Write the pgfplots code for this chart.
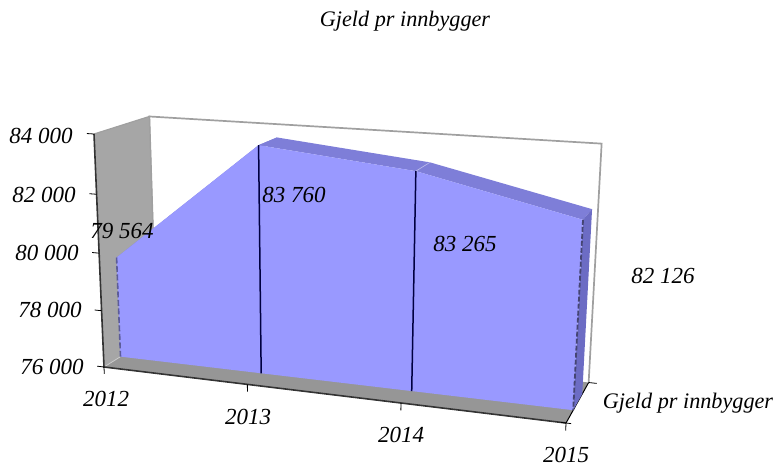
\documentclass[border=0pt]{standalone}
\usepackage{pgfplots}
\pgfplotsset{compat=1.18}
\usepackage{fontspec}
\setmainfont{Liberation Serif}
% projection of (category i = 0..3, depth d = 0..1, value v) on to the picture
\def\WW{((\thisrow{v}-76000)/8000)}
\def\DEN{(1-0.1004*\thisrow{i}/3+0.074*\thisrow{d}-0.0446*\WW)}
\def\PX{((104+405.2*\thisrow{i}/3+63.9*\thisrow{d}-14.19*\WW)/\DEN)}
\def\PY{((367+13.53*\thisrow{i}/3-8.13*\thisrow{d}-238.98*\WW)/\DEN)}
\newcommand\Part[2]{\addplot[mark=none,#1] table[row sep=\\,x expr=\PX,y expr=\PY]{i d v\\#2\\};}
\definecolor{face}{HTML}{9999FF}
\definecolor{topf}{HTML}{7E7ED8}
\definecolor{sidef}{HTML}{6C6CC4}
\definecolor{wallg}{HTML}{A6A6A6}
\definecolor{floorg}{HTML}{969696}
\definecolor{edgeg}{HTML}{A0A0A0}
\begin{document}
\begin{tikzpicture}
\useasboundingbox (0,0) rectangle (775pt,467pt);
\begin{axis}[at={(0,0)},anchor=south west,width=775pt,height=467pt,scale only axis,
  xmin=0,xmax=775,ymin=0,ymax=467,y dir=reverse,hide axis,clip=false]
% walls and floor
\Part{fill=white,draw=none}{0 1 76000\\0 1 84000\\3 1 84000\\3 1 76000}
\Part{draw=edgeg,line width=1.7pt}{0 1 76000\\0 1 84000\\3 1 84000\\3 1 76000}
\Part{fill=wallg,draw=none}{0 0 76000\\0 0 84000\\0 1 84000\\0 1 76000}
\Part{draw=edgeg,line width=1.2pt}{0 0 84000\\0 1 84000\\0 1 76000}
\Part{fill=floorg,draw=none}{0 0 76000\\3 0 76000\\3 1 76000\\0 1 76000}
\Part{draw=gray!40,line width=0.8pt}{0 0 76000\\0 0.3 76000}
\Part{draw=black,line width=1pt}{3 0 76000\\3 1 76000}
% area: upper faces, side, front
\Part{fill=topf,draw=none}{0 0.3 79564\\0 0.7 79564\\1 0.7 83760\\1 0.3 83760}
\Part{fill=topf,draw=none}{1 0.3 83760\\1 0.7 83760\\2 0.7 83265\\3 0.7 82126\\3 0.3 82126\\2 0.3 83265}
\Part{draw=topf!55!white,line width=0.7pt}{2 0.3 83265\\2 0.7 83265}
\Part{fill=sidef,draw=none}{3 0.3 82126\\3 0.7 82126\\3 0.7 76000\\3 0.3 76000}
\Part{fill=face,draw=none}{0 0.3 79564\\1 0.3 83760\\2 0.3 83265\\3 0.3 82126\\3 0.3 76000\\0 0.3 76000}
% lines on the front
\Part{draw=black!75!blue,line width=1.5pt}{1 0.3 83760\\1 0.3 76000}
\Part{draw=black!75!blue,line width=1.5pt}{2 0.3 83265\\2 0.3 76000}
\Part{draw=face!60!black,line width=1.6pt,dash pattern=on 6pt off 2.5pt}{0 0.3 79564\\0 0.3 76000}
\Part{draw=face!45!black,line width=1.8pt,dash pattern=on 5pt off 2pt}{3 0.3 82126\\3 0.3 76000}
% axis lines and ticks
\Part{draw=black!80,line width=1.6pt}{0 0 84000\\0 0 76000\\3 0 76000}
\Part{draw=black,line width=0.8pt}{-0.05 0 84000\\0 0 84000}
\Part{draw=black,line width=0.8pt}{-0.05 0 82000\\0 0 82000}
\Part{draw=black,line width=0.8pt}{-0.05 0 80000\\0 0 80000}
\Part{draw=black,line width=0.8pt}{-0.05 0 78000\\0 0 78000}
\Part{draw=black,line width=0.8pt}{-0.05 0 76000\\0 0 76000}
\Part{draw=black,line width=0.8pt}{0 0 76000\\0 0 75750}
\Part{draw=black,line width=0.8pt}{1 0 76000\\1 0 75750}
\Part{draw=black,line width=0.8pt}{2 0 76000\\2 0 75750}
\Part{draw=black,line width=0.8pt}{3 0 76000\\3 0 75750}
\Part{draw=black,line width=0.8pt}{2.97 0 76000\\3.03 0 76000}
\Part{draw=black,line width=0.8pt}{3 1 76000\\3.05 1 76000}
% texts
\tikzset{every node/.style={font=\itshape\fontsize{23}{25}\selectfont,inner sep=0pt}}
\node[font=\itshape\fontsize{22.2}{25}\selectfont] at (axis cs:405,21) {Gjeld pr innbygger};
\node at (axis cs:41,136) {84 000};
\node at (axis cs:44,195) {82 000};
\node at (axis cs:47,253) {80 000};
\node at (axis cs:50,310) {78 000};
\node at (axis cs:52,367) {76 000};
\node at (axis cs:106,399) {2012};
\node at (axis cs:248,417) {2013};
\node at (axis cs:401,435) {2014};
\node at (axis cs:566,455) {2015};
\node[font=\itshape\fontsize{22.2}{25}\selectfont] at (axis cs:688,403) {Gjeld pr innbygger};
\node at (axis cs:122,231) {79 564};
\node at (axis cs:294,195) {83 760};
\node at (axis cs:465,244) {83 265};
\node at (axis cs:663,276) {82 126};
\end{axis}
\end{tikzpicture}
\end{document}
